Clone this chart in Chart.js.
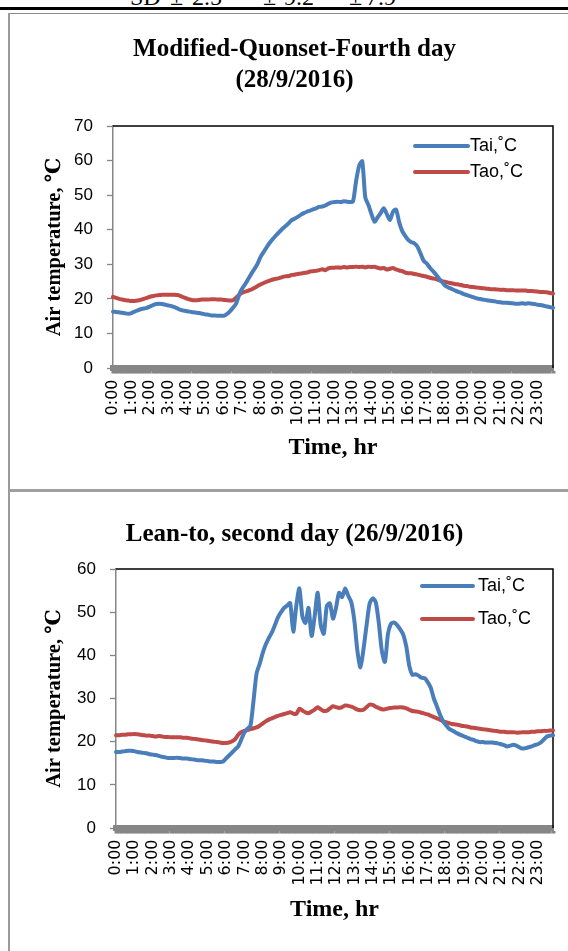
<!DOCTYPE html>
<html><head><meta charset="utf-8">
<script src="https://cdn.jsdelivr.net/npm/chart.js@4.4.0/dist/chart.umd.min.js"></script>
<style>
html,body{margin:0;padding:0;background:#fff;width:568px;height:951px;overflow:hidden;position:relative;}
.abs{position:absolute;}
.sd{position:absolute;top:-15.5px;font-family:'Liberation Serif','Times New Roman',serif;font-size:24px;line-height:24px;white-space:nowrap;color:#000;}
</style></head><body>
<span class="sd" style="left:130px">SD</span>
<span class="sd" style="left:170px">±</span>
<span class="sd" style="left:192px">2.5</span>
<span class="sd" style="left:263px">±</span>
<span class="sd" style="left:284px">9.2</span>
<span class="sd" style="left:349px">±</span>
<span class="sd" style="left:366px">7.9</span>
<div class="abs" style="left:0;top:7px;width:568px;height:3px;background:#000"></div>
<div class="abs" style="left:8px;top:13px;width:560px;height:1px;background:#8c8c8c"></div>
<div class="abs" style="left:8px;top:489px;width:560px;height:3px;background:#a0a0a0"></div>
<canvas id="c1" class="abs" style="left:10px;top:14px" width="558" height="474"></canvas>
<canvas id="c2" class="abs" style="left:10px;top:492px" width="558" height="459"></canvas>
<div class="abs" style="left:8px;top:13px;width:2px;height:938px;background:#9a9a9a"></div>
<script>
// ---- categories (10-minute readings over the day) ----
const timeLabels = [];
for (let m = 0; m < 24 * 60; m += 10) {
  timeLabels.push(Math.floor(m / 60) + ':' + String(m % 60).padStart(2, '0'));
}
const seriesNames = ['Tai,˚C', 'Tao,˚C'];

// ---- Modified-Quonset, fourth day (28/9/2016) ----
const topTai = [
16.3,16.2,16.1,16.0,15.8,15.7,
15.9,16.3,16.7,17.0,17.2,17.4,
17.8,18.2,18.5,18.6,18.5,18.3,
18.1,17.9,17.6,17.2,16.8,16.6,
16.4,16.3,16.1,16.0,15.9,15.7,
15.5,15.4,15.2,15.2,15.1,15.1,
15.1,15.6,16.4,17.4,18.6,21.2,
23.0,24.3,25.8,27.3,28.7,30.2,
32.2,33.6,35.0,36.3,37.4,38.4,
39.3,40.2,41.0,41.8,42.7,43.2,
43.7,44.3,44.8,45.2,45.5,45.9,
46.2,46.6,46.7,47.0,47.5,47.9,
48.0,48.1,48.0,48.2,48.1,48.0,
48.2,54.0,58.5,59.8,49.3,47.2,
44.5,42.3,43.6,44.8,46.2,44.5,
42.8,45.2,45.8,42.2,39.6,38.2,
37.0,36.4,36.0,35.0,33.0,31.0,
30.2,29.0,28.0,27.0,25.8,24.8,
23.8,23.3,22.9,22.5,22.1,21.8,
21.4,21.1,20.8,20.5,20.2,20.0,
19.8,19.7,19.5,19.4,19.3,19.1,
19.0,18.9,18.9,18.8,18.7,18.6,
18.6,18.7,18.6,18.7,18.6,18.5,
18.3,18.2,18.0,17.8,17.6,17.4];
const topTao = [
20.6,20.3,20.0,19.8,19.6,19.5,
19.4,19.4,19.5,19.7,20.0,20.3,
20.6,20.8,21.0,21.1,21.2,21.2,
21.2,21.2,21.2,21.1,20.8,20.4,
20.1,19.8,19.6,19.6,19.7,19.8,
19.8,19.8,19.9,19.9,19.8,19.8,
19.7,19.6,19.5,19.6,20.3,21.2,
21.8,22.1,22.4,22.7,23.2,23.7,
24.2,24.6,25.0,25.3,25.6,25.8,
26.0,26.3,26.5,26.6,26.9,27.0,
27.2,27.3,27.5,27.6,27.9,28.0,
28.1,28.3,28.6,28.3,28.8,29.0,
29.0,29.1,29.0,29.2,29.1,29.2,
29.2,29.3,29.2,29.3,29.1,29.3,
29.2,29.3,29.0,28.8,28.9,28.5,
28.7,28.9,28.5,28.2,28.0,27.6,
27.4,27.4,27.2,27.0,26.8,26.6,
26.4,26.1,25.9,25.7,25.4,25.1,
24.9,24.7,24.5,24.3,24.2,24.0,
23.8,23.7,23.5,23.4,23.3,23.2,
23.1,23.0,22.9,22.8,22.8,22.7,
22.6,22.6,22.5,22.5,22.5,22.4,
22.4,22.4,22.4,22.3,22.3,22.2,
22.1,22.0,22.0,21.9,21.7,21.5];

// ---- Lean-to, second day (26/9/2016) ----
const bottomTai = [
17.6,17.6,17.7,17.8,17.9,17.9,
17.8,17.6,17.5,17.4,17.3,17.1,
17.0,16.9,16.7,16.5,16.4,16.2,
16.2,16.2,16.3,16.2,16.1,16.1,
16.0,15.9,15.8,15.7,15.7,15.6,
15.5,15.4,15.4,15.3,15.3,15.4,
16.1,16.8,17.5,18.2,18.9,20.5,
22.1,23.0,23.7,29.5,35.8,38.0,
40.5,42.5,44.0,45.3,47.0,48.8,
50.0,51.0,51.5,52.1,45.5,51.5,
55.5,49.0,47.5,51.0,44.5,49.0,
54.5,47.0,45.0,51.5,52.0,48.5,
51.0,54.5,53.5,55.5,53.8,52.3,
48.0,41.0,37.2,41.5,47.0,52.0,
53.2,52.3,47.5,41.0,38.5,45.0,
47.3,47.6,47.0,46.0,44.8,42.0,
37.5,35.5,35.6,35.3,34.8,34.7,
33.8,32.5,30.0,28.2,26.3,24.8,
23.8,23.0,22.6,22.2,21.8,21.5,
21.2,20.9,20.6,20.4,20.1,19.9,
19.9,19.8,19.8,19.8,19.7,19.6,
19.4,19.2,18.9,19.1,19.3,19.1,
18.7,18.4,18.5,18.7,18.9,19.2,
19.4,19.8,20.5,21.2,21.4,21.5];
const bottomTao = [
21.5,21.5,21.6,21.6,21.7,21.7,
21.8,21.7,21.6,21.5,21.4,21.4,
21.3,21.2,21.3,21.2,21.1,21.1,
21.0,21.0,21.0,21.0,20.9,20.9,
20.8,20.7,20.6,20.5,20.4,20.3,
20.2,20.1,20.0,19.9,19.8,19.7,
19.7,19.8,20.1,20.6,21.6,22.2,
22.5,22.7,22.9,23.1,23.3,23.7,
24.2,24.7,25.1,25.4,25.7,26.0,
26.2,26.4,26.6,26.8,26.5,26.4,
27.6,27.2,26.8,26.6,27.0,27.4,
28.0,27.5,27.1,27.2,27.7,28.2,
28.0,27.8,28.0,28.4,28.3,28.1,
27.8,27.4,27.3,27.4,28.0,28.6,
28.5,28.1,27.8,27.5,27.5,27.7,
27.8,27.9,27.9,28.0,27.9,27.7,
27.4,27.1,27.0,26.9,26.7,26.5,
26.3,26.0,25.7,25.4,25.1,24.7,
24.5,24.3,24.1,24.0,23.9,23.7,
23.6,23.5,23.3,23.2,23.1,23.0,
22.9,22.8,22.7,22.6,22.5,22.4,
22.3,22.3,22.2,22.2,22.2,22.1,
22.1,22.2,22.2,22.2,22.3,22.3,
22.4,22.4,22.5,22.5,22.6,22.6];

const BLUE = '#4A7EBB', RED = '#BE4B48', GRAY = '#868686';
const SERIF = "'Liberation Serif','Times New Roman','DejaVu Serif',serif";
const SANS = "'Liberation Sans',Arial,sans-serif";

const plotFrame = {
  id: 'plotFrame',
  beforeDatasetsDraw(chart) {
    const {ctx, chartArea: a} = chart;
    ctx.save();
    ctx.strokeStyle = '#000';
    ctx.lineWidth = 1.5;
    ctx.beginPath();
    ctx.moveTo(a.left, a.top);
    ctx.lineTo(a.right, a.top);
    ctx.lineTo(a.right, a.bottom);
    ctx.stroke();
    ctx.restore();
  }
};

const insideLegend = {
  id: 'insideLegend',
  afterDatasetsDraw(chart, args, o) {
    const {ctx, chartArea: a} = chart;
    ctx.save();
    chart.data.datasets.forEach((ds, i) => {
      const y = a.top + o.top + i * o.gap;
      ctx.strokeStyle = ds.borderColor;
      ctx.lineWidth = 4;
      ctx.lineCap = 'round';
      ctx.beginPath();
      ctx.moveTo(a.right - o.x1, y);
      ctx.lineTo(a.right - o.x2, y);
      ctx.stroke();
      ctx.fillStyle = '#000';
      ctx.font = o.size + 'px ' + SANS;
      ctx.textAlign = 'left';
      ctx.textBaseline = 'middle';
      ctx.fillText(ds.label, a.right - o.tx, y);
    });
    ctx.restore();
  }
};

function buildChart(el, p) {
  return new Chart(el, {
    type: 'line',
    data: {
      labels: timeLabels,
      datasets: [
        {label: seriesNames[0], data: p.tai, borderColor: BLUE, backgroundColor: BLUE},
        {label: seriesNames[1], data: p.tao, borderColor: RED, backgroundColor: RED}
      ]
    },
    options: {
      responsive: false,
      animation: false,
      layout: {padding: {left: 26, right: 15, top: 0, bottom: 0}},
      elements: {
        point: {radius: 0, hoverRadius: 0},
        line: {borderWidth: 4, tension: 0.25, borderCapStyle: 'round', borderJoinStyle: 'round', fill: false}
      },
      plugins: {
        legend: {display: false},
        tooltip: {enabled: false},
        title: {
          display: true, text: p.title, color: '#000',
          font: {family: SERIF, size: 25, weight: 'bold', lineHeight: p.titleLH},
          padding: p.titlePad
        },
        insideLegend: p.legend
      },
      scales: {
        x: {
          type: 'category',
          offset: false,
          grid: {display: true, drawOnChartArea: false, drawTicks: true, tickLength: 5.5, tickWidth: 4, tickColor: GRAY, offset: false},
          border: {display: true, color: GRAY, width: 6},
          ticks: {
            autoSkip: false, maxRotation: 90, minRotation: 90, padding: 6, color: '#000',
            font: {family: "'DejaVu Sans',sans-serif", size: 16},
            callback(v, i) { return i % 6 === 0 ? this.getLabelForValue(v) : ''; }
          },
          title: {
            display: true, text: 'Time, hr', color: '#000',
            font: {family: SERIF, size: 24, weight: 'bold', lineHeight: 1.2},
            padding: {top: 0, bottom: p.xTitlePad}
          },
          afterFit(s) { s.height = p.xHeight; s.paddingLeft = 0; s.paddingRight = 0; }
        },
        y: {
          min: 0, max: p.ymax,
          ticks: {stepSize: 10, padding: 14, color: '#000', font: {family: SANS, size: 17}},
          grid: {display: true, drawOnChartArea: false, drawTicks: true, tickLength: 6, tickColor: GRAY, tickWidth: 1.3},
          border: {display: true, color: GRAY, width: 1.5},
          title: {
            display: true, text: 'Air temperature, ℃', color: '#000',
            font: {family: SERIF, size: 20.5, weight: 'bold', lineHeight: 1.2},
            padding: {top: 6.7, bottom: 0}
          },
          afterFit(s) { s.width = p.yWidth; }
        }
      }
    },
    plugins: [plotFrame, insideLegend]
  });
}

buildChart(document.getElementById('c1'), {
  tai: topTai, tao: topTao, ymax: 70,
  title: ['Modified-Quonset-Fourth day', '(28/9/2016)'],
  titleLH: 1.24, titlePad: {top: 20.5, bottom: 29.5},
  xHeight: 120, xTitlePad: 25.6, yWidth: 77,
  legend: {top: 20, gap: 26, x1: 138, x2: 85, tx: 83, size: 18}
});

buildChart(document.getElementById('c2'), {
  tai: bottomTai, tao: bottomTao, ymax: 60,
  title: 'Lean-to, second day (26/9/2016)',
  titleLH: 1.2, titlePad: {top: 28, bottom: 19},
  xHeight: 123, xTitlePad: 26.6, yWidth: 80,
  legend: {top: 17, gap: 33, x1: 131, x2: 80, tx: 75, size: 18}
});
</script>
</body></html>
